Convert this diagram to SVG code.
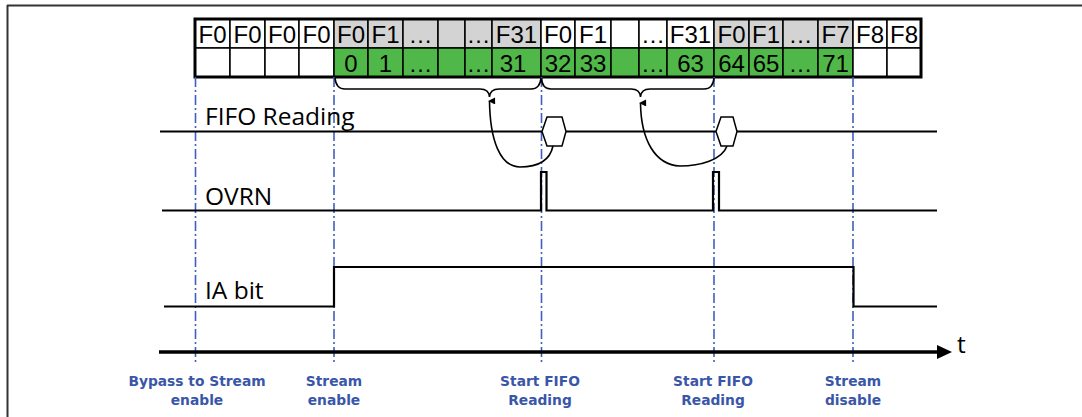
<svg xmlns="http://www.w3.org/2000/svg" width="1082" height="417" viewBox="0 0 1082 417">
<style>
.cell{stroke:#000;stroke-width:1.5}
.w{fill:#fff}.g{fill:#d3d3d3}.gr{fill:#50b848}
.ct{font-family:"Liberation Sans",Arial,sans-serif;font-size:24px;fill:#000;text-anchor:middle}
.sig{fill:none;stroke:#000;stroke-width:2.2;stroke-linejoin:miter}
.lbl{font-family:"Open Sans","Noto Sans",sans-serif;font-size:24.5px;fill:#000}
.dash{stroke:#3f5fbf;stroke-width:1.6;stroke-dasharray:10 3 2 3;fill:none}
.ev{font-family:"DejaVu Sans",Verdana,sans-serif;font-weight:bold;font-size:13.8px;fill:#3a56a8;text-anchor:middle}
.br{fill:none;stroke:#000;stroke-width:1.6}
.hex{fill:#fff;stroke:#000;stroke-width:1.5}
</style>
<defs>
<marker id="ah" viewBox="0 0 10 10" refX="5" refY="2" markerWidth="7" markerHeight="9" markerUnits="userSpaceOnUse" orient="auto-start-reverse">
<path d="M0,10 L5,0 L10,10 Z" fill="#000"/>
</marker>
</defs>
<rect width="1082" height="417" fill="#fff"/>
<g id="frame">
<path d="M7,5.5 H1082 M7.5,5 V417" fill="none" stroke="#333" stroke-width="2"/>
</g>
<g id="fifo-table">
<g id="row1">
<rect class="cell w" x="195" y="19" width="35" height="29"/><text class="ct" x="212.5" y="43">F0</text>
<rect class="cell w" x="230" y="19" width="35" height="29"/><text class="ct" x="247.5" y="43">F0</text>
<rect class="cell w" x="265" y="19" width="34" height="29"/><text class="ct" x="282" y="43">F0</text>
<rect class="cell w" x="299" y="19" width="35" height="29"/><text class="ct" x="316.5" y="43">F0</text>
<rect class="cell g" x="334" y="19" width="34" height="29"/><text class="ct" x="351" y="43">F0</text>
<rect class="cell g" x="368" y="19" width="35" height="29"/><text class="ct" x="385.5" y="43">F1</text>
<rect class="cell g" x="403" y="19" width="35" height="29"/><text class="ct" x="420.5" y="43">…</text>
<rect class="cell g" x="438" y="19" width="27" height="29"/>
<rect class="cell g" x="465" y="19" width="27" height="29"/><text class="ct" x="478.5" y="43">…</text>
<rect class="cell g" x="492" y="19" width="49" height="29"/><text class="ct" x="516.5" y="43">F31</text>
<rect class="cell w" x="541" y="19" width="34" height="29"/><text class="ct" x="558" y="43">F0</text>
<rect class="cell w" x="575" y="19" width="36" height="29"/><text class="ct" x="593" y="43">F1</text>
<rect class="cell w" x="611" y="19" width="28" height="29"/>
<rect class="cell w" x="639" y="19" width="28" height="29"/><text class="ct" x="653" y="43">…</text>
<rect class="cell w" x="667" y="19" width="47" height="29"/><text class="ct" x="690.5" y="43">F31</text>
<rect class="cell g" x="714" y="19" width="35" height="29"/><text class="ct" x="731.5" y="43">F0</text>
<rect class="cell g" x="749" y="19" width="34" height="29"/><text class="ct" x="766" y="43">F1</text>
<rect class="cell g" x="783" y="19" width="35" height="29"/><text class="ct" x="800.5" y="43">…</text>
<rect class="cell g" x="818" y="19" width="35" height="29"/><text class="ct" x="835.5" y="43">F7</text>
<rect class="cell w" x="853" y="19" width="34" height="29"/><text class="ct" x="870" y="43">F8</text>
<rect class="cell w" x="887" y="19" width="34" height="29"/><text class="ct" x="904" y="43">F8</text>
</g>
<g id="row2">
<rect class="cell w" x="195" y="48" width="35" height="29"/>
<rect class="cell w" x="230" y="48" width="35" height="29"/>
<rect class="cell w" x="265" y="48" width="34" height="29"/>
<rect class="cell w" x="299" y="48" width="35" height="29"/>
<rect class="cell gr" x="334" y="48" width="34" height="29"/><text class="ct" x="351" y="72">0</text>
<rect class="cell gr" x="368" y="48" width="35" height="29"/><text class="ct" x="385.5" y="72">1</text>
<rect class="cell gr" x="403" y="48" width="35" height="29"/><text class="ct" x="420.5" y="72">…</text>
<rect class="cell gr" x="438" y="48" width="27" height="29"/>
<rect class="cell gr" x="465" y="48" width="27" height="29"/><text class="ct" x="478.5" y="72">…</text>
<rect class="cell gr" x="492" y="48" width="49" height="29"/><text class="ct" x="513" y="72">31</text>
<rect class="cell gr" x="541" y="48" width="34" height="29"/><text class="ct" x="558" y="72">32</text>
<rect class="cell gr" x="575" y="48" width="36" height="29"/><text class="ct" x="593" y="72">33</text>
<rect class="cell gr" x="611" y="48" width="28" height="29"/>
<rect class="cell gr" x="639" y="48" width="28" height="29"/><text class="ct" x="653" y="72">…</text>
<rect class="cell gr" x="667" y="48" width="47" height="29"/><text class="ct" x="690.5" y="72">63</text>
<rect class="cell gr" x="714" y="48" width="35" height="29"/><text class="ct" x="731.5" y="72">64</text>
<rect class="cell gr" x="749" y="48" width="34" height="29"/><text class="ct" x="766" y="72">65</text>
<rect class="cell gr" x="783" y="48" width="35" height="29"/><text class="ct" x="800.5" y="72">…</text>
<rect class="cell gr" x="818" y="48" width="35" height="29"/><text class="ct" x="835.5" y="72">71</text>
<rect class="cell w" x="853" y="48" width="34" height="29"/>
<rect class="cell w" x="887" y="48" width="34" height="29"/>
</g>
<rect x="195" y="19" width="726" height="58" fill="none" stroke="#000" stroke-width="3"/>
</g>
<g id="markers">
<path class="dash" d="M195.5,77 V362"/>
<path class="dash" d="M334,77 V362"/>
<path class="dash" d="M541.5,77 V363"/>
<path class="dash" d="M714,77 V362"/>
<path class="dash" d="M853,77 V362"/>
</g>
<g id="fifo-reading">
<text class="lbl" x="205" y="125">FIFO Reading</text>
<path class="sig" d="M160,131.5 H542 M566,131.5 H716 M737,131.5 H937"/>
<polygon class="hex" points="542,131.5 547,117 562,117 566,131.5 562,146 547,146"/>
<polygon class="hex" points="716,131.5 721,117 733,117 737,131.5 733,146 721,146"/>
</g>
<g id="ovrn">
<text class="lbl" x="205" y="205">OVRN</text>
<path class="sig" d="M162,210.5 H541 V172 H546.5 V210.5 H713 V172 H719 V210.5 H937"/>
</g>
<g id="ia-bit">
<text class="lbl" x="205" y="299">IA bit</text>
<path class="sig" d="M164,306.5 H334 V267 H853.5 V306.5 H937" stroke-width="2.6"/>
</g>
<g id="time-axis">
<path d="M159,352 H938" fill="none" stroke="#000" stroke-width="3.5"/>
<polygon points="937,345 952,352 937,359" fill="#000"/>
<text class="lbl" x="957" y="353">t</text>
</g>
<g id="connectors">
<path class="br" d="M335,78 Q336,89 345,89 L480,89 Q489,89 489.5,97 Q490,89 499,89 L531,89 Q540,89 541,78"/>
<path class="br" d="M541.5,78 Q542,89 551,89 L631,89 Q640,89 640.5,97 Q641,89 650,89 L704,89 Q713,89 714,78"/>
<path class="br" d="M553,146 C550,160 540,167 520,167 C500,167 490,140 489.5,101" marker-end="url(#ah)"/>
<path class="br" d="M727,146 C722,160 700,166 680,166 C655,165 641,140 640.5,103" marker-end="url(#ah)"/>
</g>
<g id="event-labels">
<text class="ev" x="197" y="385.5">Bypass to Stream</text><text class="ev" x="197" y="405">enable</text>
<text class="ev" x="334" y="385.5">Stream</text><text class="ev" x="334" y="405">enable</text>
<text class="ev" x="540" y="385.5">Start FIFO</text><text class="ev" x="540" y="405">Reading</text>
<text class="ev" x="713" y="385.5">Start FIFO</text><text class="ev" x="713" y="405">Reading</text>
<text class="ev" x="853" y="385.5">Stream</text><text class="ev" x="853" y="405">disable</text>
</g>
</svg>
